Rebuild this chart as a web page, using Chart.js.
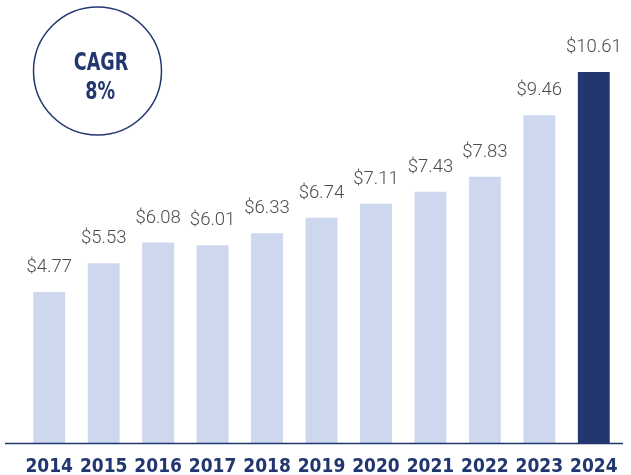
<!DOCTYPE html>
<html>
<head>
<meta charset="utf-8">
<script src="https://cdn.jsdelivr.net/npm/chart.js@4.4.1/dist/chart.umd.min.js"></script>
<style>
  body { margin: 0; background: #fff; }
  #wrap { width: 631px; height: 475px; }
</style>
</head>
<body>
<div id="wrap"><canvas id="chart" width="631" height="475"></canvas></div>
<script>
// Data
const years = ['2014', '2015', '2016', '2017', '2018', '2019', '2020', '2021', '2022', '2023', '2024'];
const values = [4.77, 5.53, 6.08, 6.01, 6.33, 6.74, 7.11, 7.43, 7.83, 9.46, 10.61];
const cagrLines = ['CAGR', '8%'];

const NAVY = '#22376f';
const LIGHT = '#cdd8ee';
const CONDENSED = '"Liberation Sans Narrow", "DejaVu Sans Condensed", sans-serif';

// Value labels above each bar
const valueLabels = {
    id: 'valueLabels',
    afterDatasetsDraw(chart) {
        const ctx = chart.ctx;
        const meta = chart.getDatasetMeta(0);
        ctx.save();
        ctx.font = '300 18.5px Roboto';
        ctx.fillStyle = '#4d4d4d';
        ctx.textAlign = 'center';
        ctx.textBaseline = 'alphabetic';
        meta.data.forEach((bar, i) => {
            ctx.fillText('$' + values[i].toFixed(2), bar.x, bar.y - 20);
        });
        ctx.restore();
    }
};

// Baseline and CAGR badge
const decorations = {
    id: 'decorations',
    afterDraw(chart) {
        const ctx = chart.ctx;
        const area = chart.chartArea;
        ctx.save();
        ctx.strokeStyle = NAVY;
        ctx.lineWidth = 1.5;
        ctx.beginPath();
        ctx.moveTo(5, area.bottom + 0.5);
        ctx.lineTo(623, area.bottom + 0.5);
        ctx.stroke();

        ctx.beginPath();
        ctx.arc(97.5, 71, 64, 0, Math.PI * 2);
        ctx.lineWidth = 1.5;
        ctx.stroke();

        // squeeze the badge text horizontally, the original face is condensed
        ctx.fillStyle = NAVY;
        ctx.textAlign = 'center';
        ctx.textBaseline = 'alphabetic';
        ctx.font = 'bold 25px ' + CONDENSED;
        ctx.translate(101, 0);
        ctx.scale(0.78, 1);
        ctx.fillText(cagrLines[0], 0, 70);
        ctx.fillText(cagrLines[1], -1, 99);
        ctx.restore();
    }
};

new Chart(document.getElementById('chart'), {
    type: 'bar',
    data: {
        labels: years,
        datasets: [{
            data: values,
            backgroundColor: values.map((v, i) => i === values.length - 1 ? NAVY : LIGHT),
            borderWidth: 0,
            categoryPercentage: 1,
            barPercentage: 0.586
        }]
    },
    options: {
        responsive: false,
        animation: false,
        layout: { padding: { left: 22, right: 9, top: 0, bottom: 0 } },
        plugins: {
            legend: { display: false },
            tooltip: { enabled: false }
        },
        scales: {
            x: {
                grid: { display: false, drawTicks: false },
                border: { display: false },
                ticks: {
                    color: NAVY,
                    padding: 13,
                    maxRotation: 0,
                    minRotation: 0,
                    autoSkip: false,
                    font: { family: CONDENSED, size: 19, weight: 'bold' }
                },
                afterFit(scale) { scale.height = 32; }
            },
            y: {
                display: false,
                min: 0.76,
                max: 12.52
            }
        }
    },
    plugins: [valueLabels, decorations]
});
</script>
</body>
</html>
